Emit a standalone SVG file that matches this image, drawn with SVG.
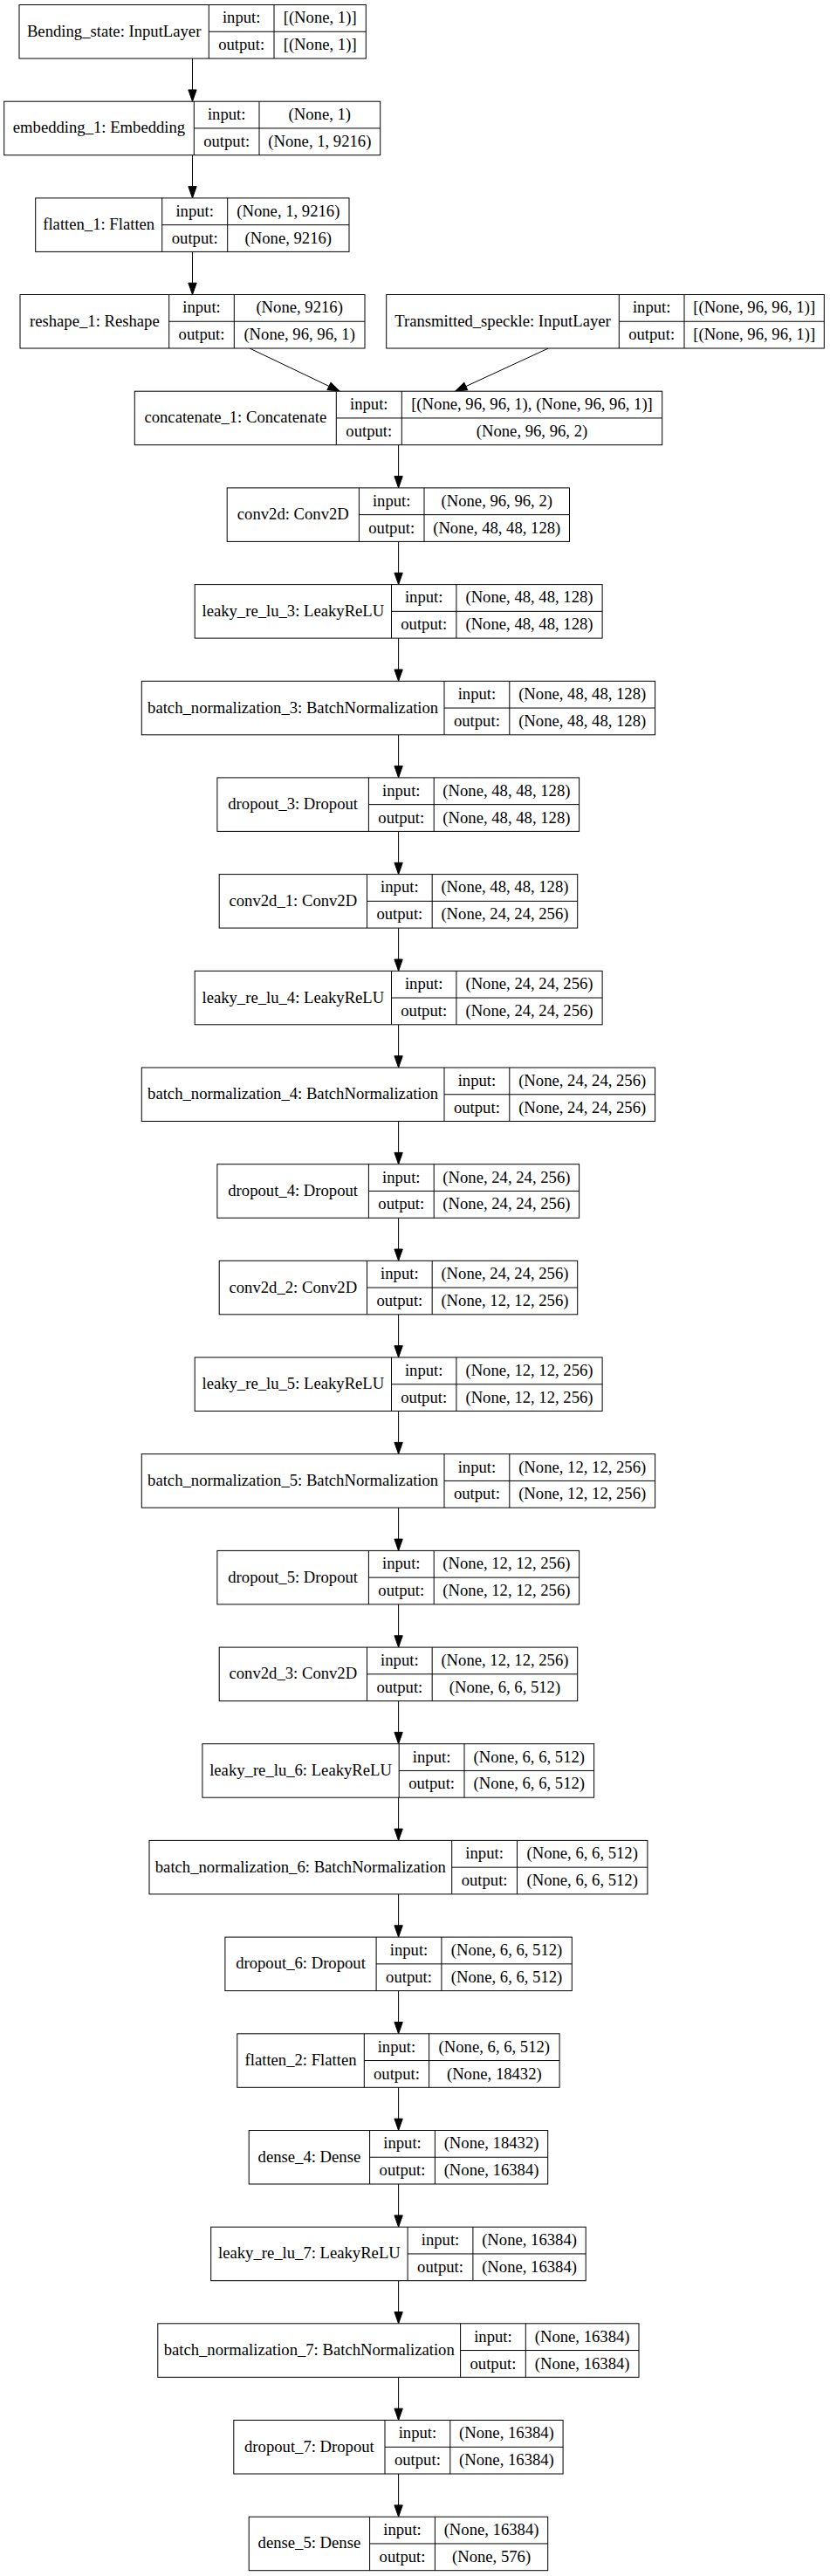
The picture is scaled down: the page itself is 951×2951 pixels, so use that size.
<svg xmlns="http://www.w3.org/2000/svg" width="951" height="2951" viewBox="0 0 951 2951">
<style>
rect{fill:#fff;stroke:#000;stroke-width:1}
.d{fill:none;stroke:#000;stroke-width:1}
text{font-family:"Liberation Serif","Times New Roman",serif;font-size:18.67px;text-anchor:middle;fill:#000}
.e{fill:none;stroke:#000;stroke-width:1;marker-end:url(#ah)}
</style>
<defs>
<marker id="ah" markerUnits="userSpaceOnUse" orient="auto" markerWidth="16" markerHeight="12" refX="13.3" refY="0" viewBox="0 -6 16 12" overflow="visible">
<path d="M0,-4.67 L13.3,0 L0,4.67 Z" fill="#000" stroke="#000" stroke-width="1"/>
</marker>
</defs>
<rect x="0" y="0" width="951" height="2951" style="stroke:none"/>
<g id="edges">
<path class="e" d="M220.5,67 V116.2"/>
<path class="e" d="M220.5,177.7 V226.9"/>
<path class="e" d="M220.5,288.4 V337.5"/>
<path class="e" d="M286,399 L389,448.2"/>
<path class="e" d="M628.3,399 L521.7,448.2"/>
<path class="e" d="M456.6,509.7 V558.9"/>
<path class="e" d="M456.6,620.4 V669.6"/>
<path class="e" d="M456.6,731.1 V780.3"/>
<path class="e" d="M456.6,841.8 V890.9"/>
<path class="e" d="M456.6,952.4 V1001.6"/>
<path class="e" d="M456.6,1063.1 V1112.3"/>
<path class="e" d="M456.6,1173.8 V1223"/>
<path class="e" d="M456.6,1284.5 V1333.7"/>
<path class="e" d="M456.6,1395.2 V1444.3"/>
<path class="e" d="M456.6,1505.8 V1555"/>
<path class="e" d="M456.6,1616.5 V1665.7"/>
<path class="e" d="M456.6,1727.2 V1776.4"/>
<path class="e" d="M456.6,1837.9 V1887.1"/>
<path class="e" d="M456.6,1948.6 V1997.7"/>
<path class="e" d="M456.6,2059.2 V2108.4"/>
<path class="e" d="M456.6,2169.9 V2219.1"/>
<path class="e" d="M456.6,2280.6 V2329.8"/>
<path class="e" d="M456.6,2391.3 V2440.5"/>
<path class="e" d="M456.6,2502 V2551.2"/>
<path class="e" d="M456.6,2612.7 V2661.8"/>
<path class="e" d="M456.6,2723.3 V2772.5"/>
<path class="e" d="M456.6,2834 V2883.2"/>
</g>

<g id="bending_state" transform="translate(0,5.5)">
<rect x="22" y="0" width="397.3" height="61.5"/>
<path class="d" d="M239.3,0 V61.5 M314,0 V61.5 M239.3,30.75 H419.3"/>
<text x="130.65" y="36.3">Bending_state: InputLayer</text>
<text x="276.65" y="20.9">input:</text><text x="366.65" y="20.9">[(None, 1)]</text>
<text x="276.65" y="51.8">output:</text><text x="366.65" y="51.8">[(None, 1)]</text>
</g>

<g id="embedding_1" transform="translate(0,116.2)">
<rect x="4.7" y="0" width="431" height="61.5"/>
<path class="d" d="M222.3,0 V61.5 M297,0 V61.5 M222.3,30.75 H435.7"/>
<text x="113.5" y="36.3">embedding_1: Embedding</text>
<text x="259.65" y="20.9">input:</text><text x="366.35" y="20.9">(None, 1)</text>
<text x="259.65" y="51.8">output:</text><text x="366.35" y="51.8">(None, 1, 9216)</text>
</g>

<g id="flatten_1" transform="translate(0,226.9)">
<rect x="40.7" y="0" width="359.3" height="61.5"/>
<path class="d" d="M185.7,0 V61.5 M260.7,0 V61.5 M185.7,30.75 H400"/>
<text x="113.2" y="36.3">flatten_1: Flatten</text>
<text x="223.2" y="20.9">input:</text><text x="330.35" y="20.9">(None, 1, 9216)</text>
<text x="223.2" y="51.8">output:</text><text x="330.35" y="51.8">(None, 9216)</text>
</g>

<g id="reshape_1" transform="translate(0,337.5)">
<rect x="23" y="0" width="395" height="61.5"/>
<path class="d" d="M193.7,0 V61.5 M268.3,0 V61.5 M193.7,30.75 H418"/>
<text x="108.35" y="36.3">reshape_1: Reshape</text>
<text x="231" y="20.9">input:</text><text x="343.15" y="20.9">(None, 9216)</text>
<text x="231" y="51.8">output:</text><text x="343.15" y="51.8">(None, 96, 96, 1)</text>
</g>

<g id="transmitted_speckle" transform="translate(0,337.5)">
<rect x="442.7" y="0" width="501.6" height="61.5"/>
<path class="d" d="M709.3,0 V61.5 M784,0 V61.5 M709.3,30.75 H944.3"/>
<text x="576" y="36.3">Transmitted_speckle: InputLayer</text>
<text x="746.65" y="20.9">input:</text><text x="864.15" y="20.9">[(None, 96, 96, 1)]</text>
<text x="746.65" y="51.8">output:</text><text x="864.15" y="51.8">[(None, 96, 96, 1)]</text>
</g>

<g id="concatenate_1" transform="translate(0,448.2)">
<rect x="154.3" y="0" width="604.4" height="61.5"/>
<path class="d" d="M385.3,0 V61.5 M460.3,0 V61.5 M385.3,30.75 H758.7"/>
<text x="269.8" y="36.3">concatenate_1: Concatenate</text>
<text x="422.8" y="20.9">input:</text><text x="609.5" y="20.9">[(None, 96, 96, 1), (None, 96, 96, 1)]</text>
<text x="422.8" y="51.8">output:</text><text x="609.5" y="51.8">(None, 96, 96, 2)</text>
</g>

<g id="conv2d" transform="translate(0,558.9)">
<rect x="260.2" y="0" width="392.3" height="61.5"/>
<path class="d" d="M411.4,0 V61.5 M486,0 V61.5 M411.4,30.75 H652.5"/>
<text x="335.8" y="36.3">conv2d: Conv2D</text>
<text x="448.7" y="20.9">input:</text><text x="569.25" y="20.9">(None, 96, 96, 2)</text>
<text x="448.7" y="51.8">output:</text><text x="569.25" y="51.8">(None, 48, 48, 128)</text>
</g>

<g id="leaky_re_lu_3" transform="translate(0,669.6)">
<rect x="223.2" y="0" width="466.9" height="61.5"/>
<path class="d" d="M448.5,0 V61.5 M522.9,0 V61.5 M448.5,30.75 H690.1"/>
<text x="335.85" y="36.3">leaky_re_lu_3: LeakyReLU</text>
<text x="485.7" y="20.9">input:</text><text x="606.5" y="20.9">(None, 48, 48, 128)</text>
<text x="485.7" y="51.8">output:</text><text x="606.5" y="51.8">(None, 48, 48, 128)</text>
</g>

<g id="batch_normalization_3" transform="translate(0,780.3)">
<rect x="162.3" y="0" width="588.3" height="61.5"/>
<path class="d" d="M509,0 V61.5 M583.8,0 V61.5 M509,30.75 H750.6"/>
<text x="335.65" y="36.3">batch_normalization_3: BatchNormalization</text>
<text x="546.4" y="20.9">input:</text><text x="667.2" y="20.9">(None, 48, 48, 128)</text>
<text x="546.4" y="51.8">output:</text><text x="667.2" y="51.8">(None, 48, 48, 128)</text>
</g>

<g id="dropout_3" transform="translate(0,890.9)">
<rect x="248.9" y="0" width="414.7" height="61.5"/>
<path class="d" d="M422.4,0 V61.5 M497.2,0 V61.5 M422.4,30.75 H663.6"/>
<text x="335.65" y="36.3">dropout_3: Dropout</text>
<text x="459.8" y="20.9">input:</text><text x="580.4" y="20.9">(None, 48, 48, 128)</text>
<text x="459.8" y="51.8">output:</text><text x="580.4" y="51.8">(None, 48, 48, 128)</text>
</g>

<g id="conv2d_1" transform="translate(0,1001.6)">
<rect x="251.2" y="0" width="410.5" height="61.5"/>
<path class="d" d="M420.5,0 V61.5 M495.2,0 V61.5 M420.5,30.75 H661.7"/>
<text x="335.85" y="36.3">conv2d_1: Conv2D</text>
<text x="457.85" y="20.9">input:</text><text x="578.45" y="20.9">(None, 48, 48, 128)</text>
<text x="457.85" y="51.8">output:</text><text x="578.45" y="51.8">(None, 24, 24, 256)</text>
</g>

<g id="leaky_re_lu_4" transform="translate(0,1112.3)">
<rect x="223.2" y="0" width="466.9" height="61.5"/>
<path class="d" d="M448.5,0 V61.5 M522.9,0 V61.5 M448.5,30.75 H690.1"/>
<text x="335.85" y="36.3">leaky_re_lu_4: LeakyReLU</text>
<text x="485.7" y="20.9">input:</text><text x="606.5" y="20.9">(None, 24, 24, 256)</text>
<text x="485.7" y="51.8">output:</text><text x="606.5" y="51.8">(None, 24, 24, 256)</text>
</g>

<g id="batch_normalization_4" transform="translate(0,1223)">
<rect x="162.3" y="0" width="588.3" height="61.5"/>
<path class="d" d="M509,0 V61.5 M583.8,0 V61.5 M509,30.75 H750.6"/>
<text x="335.65" y="36.3">batch_normalization_4: BatchNormalization</text>
<text x="546.4" y="20.9">input:</text><text x="667.2" y="20.9">(None, 24, 24, 256)</text>
<text x="546.4" y="51.8">output:</text><text x="667.2" y="51.8">(None, 24, 24, 256)</text>
</g>

<g id="dropout_4" transform="translate(0,1333.7)">
<rect x="248.9" y="0" width="414.7" height="61.5"/>
<path class="d" d="M422.4,0 V61.5 M497.2,0 V61.5 M422.4,30.75 H663.6"/>
<text x="335.65" y="36.3">dropout_4: Dropout</text>
<text x="459.8" y="20.9">input:</text><text x="580.4" y="20.9">(None, 24, 24, 256)</text>
<text x="459.8" y="51.8">output:</text><text x="580.4" y="51.8">(None, 24, 24, 256)</text>
</g>

<g id="conv2d_2" transform="translate(0,1444.3)">
<rect x="251.2" y="0" width="410.5" height="61.5"/>
<path class="d" d="M420.5,0 V61.5 M495.2,0 V61.5 M420.5,30.75 H661.7"/>
<text x="335.85" y="36.3">conv2d_2: Conv2D</text>
<text x="457.85" y="20.9">input:</text><text x="578.45" y="20.9">(None, 24, 24, 256)</text>
<text x="457.85" y="51.8">output:</text><text x="578.45" y="51.8">(None, 12, 12, 256)</text>
</g>

<g id="leaky_re_lu_5" transform="translate(0,1555)">
<rect x="223.2" y="0" width="466.9" height="61.5"/>
<path class="d" d="M448.5,0 V61.5 M522.9,0 V61.5 M448.5,30.75 H690.1"/>
<text x="335.85" y="36.3">leaky_re_lu_5: LeakyReLU</text>
<text x="485.7" y="20.9">input:</text><text x="606.5" y="20.9">(None, 12, 12, 256)</text>
<text x="485.7" y="51.8">output:</text><text x="606.5" y="51.8">(None, 12, 12, 256)</text>
</g>

<g id="batch_normalization_5" transform="translate(0,1665.7)">
<rect x="162.3" y="0" width="588.3" height="61.5"/>
<path class="d" d="M509,0 V61.5 M583.8,0 V61.5 M509,30.75 H750.6"/>
<text x="335.65" y="36.3">batch_normalization_5: BatchNormalization</text>
<text x="546.4" y="20.9">input:</text><text x="667.2" y="20.9">(None, 12, 12, 256)</text>
<text x="546.4" y="51.8">output:</text><text x="667.2" y="51.8">(None, 12, 12, 256)</text>
</g>

<g id="dropout_5" transform="translate(0,1776.4)">
<rect x="248.9" y="0" width="414.7" height="61.5"/>
<path class="d" d="M422.4,0 V61.5 M497.2,0 V61.5 M422.4,30.75 H663.6"/>
<text x="335.65" y="36.3">dropout_5: Dropout</text>
<text x="459.8" y="20.9">input:</text><text x="580.4" y="20.9">(None, 12, 12, 256)</text>
<text x="459.8" y="51.8">output:</text><text x="580.4" y="51.8">(None, 12, 12, 256)</text>
</g>

<g id="conv2d_3" transform="translate(0,1887.1)">
<rect x="251.2" y="0" width="410.5" height="61.5"/>
<path class="d" d="M420.5,0 V61.5 M495.2,0 V61.5 M420.5,30.75 H661.7"/>
<text x="335.85" y="36.3">conv2d_3: Conv2D</text>
<text x="457.85" y="20.9">input:</text><text x="578.45" y="20.9">(None, 12, 12, 256)</text>
<text x="457.85" y="51.8">output:</text><text x="578.45" y="51.8">(None, 6, 6, 512)</text>
</g>

<g id="leaky_re_lu_6" transform="translate(0,1997.7)">
<rect x="231.9" y="0" width="448.7" height="61.5"/>
<path class="d" d="M457.2,0 V61.5 M532,0 V61.5 M457.2,30.75 H680.6"/>
<text x="344.55" y="36.3">leaky_re_lu_6: LeakyReLU</text>
<text x="494.6" y="20.9">input:</text><text x="606.3" y="20.9">(None, 6, 6, 512)</text>
<text x="494.6" y="51.8">output:</text><text x="606.3" y="51.8">(None, 6, 6, 512)</text>
</g>

<g id="batch_normalization_6" transform="translate(0,2108.4)">
<rect x="171" y="0" width="570.9" height="61.5"/>
<path class="d" d="M517.7,0 V61.5 M592.5,0 V61.5 M517.7,30.75 H741.9"/>
<text x="344.35" y="36.3">batch_normalization_6: BatchNormalization</text>
<text x="555.1" y="20.9">input:</text><text x="667.2" y="20.9">(None, 6, 6, 512)</text>
<text x="555.1" y="51.8">output:</text><text x="667.2" y="51.8">(None, 6, 6, 512)</text>
</g>

<g id="dropout_6" transform="translate(0,2219.1)">
<rect x="257.9" y="0" width="397.4" height="61.5"/>
<path class="d" d="M431.1,0 V61.5 M505.9,0 V61.5 M431.1,30.75 H655.3"/>
<text x="344.5" y="36.3">dropout_6: Dropout</text>
<text x="468.5" y="20.9">input:</text><text x="580.6" y="20.9">(None, 6, 6, 512)</text>
<text x="468.5" y="51.8">output:</text><text x="580.6" y="51.8">(None, 6, 6, 512)</text>
</g>

<g id="flatten_2" transform="translate(0,2329.8)">
<rect x="271.8" y="0" width="369.3" height="61.5"/>
<path class="d" d="M417.3,0 V61.5 M491.6,0 V61.5 M417.3,30.75 H641.1"/>
<text x="344.55" y="36.3">flatten_2: Flatten</text>
<text x="454.45" y="20.9">input:</text><text x="566.35" y="20.9">(None, 6, 6, 512)</text>
<text x="454.45" y="51.8">output:</text><text x="566.35" y="51.8">(None, 18432)</text>
</g>

<g id="dense_4" transform="translate(0,2440.5)">
<rect x="285.2" y="0" width="342.5" height="61.5"/>
<path class="d" d="M423.6,0 V61.5 M498.4,0 V61.5 M423.6,30.75 H627.7"/>
<text x="354.4" y="36.3">dense_4: Dense</text>
<text x="461" y="20.9">input:</text><text x="563.05" y="20.9">(None, 18432)</text>
<text x="461" y="51.8">output:</text><text x="563.05" y="51.8">(None, 16384)</text>
</g>

<g id="leaky_re_lu_7" transform="translate(0,2551.2)">
<rect x="241.7" y="0" width="429.5" height="61.5"/>
<path class="d" d="M467.1,0 V61.5 M541.9,0 V61.5 M467.1,30.75 H671.2"/>
<text x="354.4" y="36.3">leaky_re_lu_7: LeakyReLU</text>
<text x="504.5" y="20.9">input:</text><text x="606.55" y="20.9">(None, 16384)</text>
<text x="504.5" y="51.8">output:</text><text x="606.55" y="51.8">(None, 16384)</text>
</g>

<g id="batch_normalization_7" transform="translate(0,2661.8)">
<rect x="180.8" y="0" width="551.2" height="61.5"/>
<path class="d" d="M527.6,0 V61.5 M602.3,0 V61.5 M527.6,30.75 H732"/>
<text x="354.2" y="36.3">batch_normalization_7: BatchNormalization</text>
<text x="564.95" y="20.9">input:</text><text x="667.15" y="20.9">(None, 16384)</text>
<text x="564.95" y="51.8">output:</text><text x="667.15" y="51.8">(None, 16384)</text>
</g>

<g id="dropout_7" transform="translate(0,2772.5)">
<rect x="267.8" y="0" width="377.3" height="61.5"/>
<path class="d" d="M441,0 V61.5 M515.8,0 V61.5 M441,30.75 H645.1"/>
<text x="354.4" y="36.3">dropout_7: Dropout</text>
<text x="478.4" y="20.9">input:</text><text x="580.45" y="20.9">(None, 16384)</text>
<text x="478.4" y="51.8">output:</text><text x="580.45" y="51.8">(None, 16384)</text>
</g>

<g id="dense_5" transform="translate(0,2883.2)">
<rect x="285.2" y="0" width="342.5" height="61.5"/>
<path class="d" d="M423.6,0 V61.5 M498.4,0 V61.5 M423.6,30.75 H627.7"/>
<text x="354.4" y="36.3">dense_5: Dense</text>
<text x="461" y="20.9">input:</text><text x="563.05" y="20.9">(None, 16384)</text>
<text x="461" y="51.8">output:</text><text x="563.05" y="51.8">(None, 576)</text>
</g>
</svg>
